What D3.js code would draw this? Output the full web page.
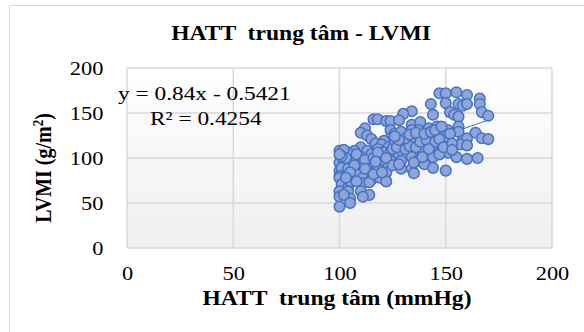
<!DOCTYPE html>
<html>
<head>
<meta charset="utf-8">
<script src="https://cdn.jsdelivr.net/npm/d3@7"></script>
<style>
  body { margin: 0; background: #fff; }
  text { font-family: "Liberation Serif", "Times New Roman", serif; }
</style>
</head>
<body>
<div id="chart"></div>
<script>
// HATT trung tâm (mmHg) values
const hatt = [
  147, 150, 155, 160, 166, 143, 150, 156, 158, 160, 166, 144, 152, 154, 156, 167, 170,
  134, 130, 116, 118, 122, 124, 128, 134, 138, 142, 146, 137, 134, 151, 156, 156,
  112, 110, 113, 124, 126, 129, 124, 121, 147, 150, 152, 158, 160, 164, 167, 170,
  157, 160, 115, 117, 120, 118, 110, 107, 104, 100, 102, 113, 115, 119, 123, 126,
  129, 132, 135, 138, 140, 143, 146, 148, 151, 155, 160, 165, 121, 124, 128, 130,
  132, 136, 139, 143, 144, 100, 102, 105, 108, 110, 110, 113, 116, 120, 124, 129,
  134, 137, 140, 144, 150, 129, 134, 135, 123, 118, 113, 100, 101, 104, 106, 100,
  100, 108, 111, 115, 119, 122, 101, 104, 105, 111, 114, 122, 100, 104, 110, 114,
  111, 100, 105, 102, 100, 105,
  108, 112, 116, 118, 122, 125, 127, 131, 133, 136, 138, 141, 145, 147, 142, 131,
  128, 126, 133, 136, 140, 143, 145, 148, 107, 105, 103, 108, 103, 101, 100, 117,
  112, 116, 120, 125, 128, 135, 139, 147, 149, 153, 153
];
// LVMI (g/m²) values
const lvmi = [
  172, 172, 173, 170, 166, 160, 161, 160, 158, 160, 160, 148, 151, 148, 146, 151, 147,
  152, 149, 143, 143, 141, 141, 142, 137, 140, 133, 135, 131, 131, 131, 135, 129,
  133, 128, 125, 131, 127, 129, 122, 119, 125, 124, 127, 119, 122, 128, 122, 121,
  115, 114, 121, 116, 115, 110, 112, 108, 106, 108, 109, 108, 104, 102, 112, 116,
  116, 117, 120, 123, 114, 116, 108, 108, 106, 101, 99, 100, 106, 106, 104, 106,
  104, 108, 108, 104, 101, 95, 93, 97, 99, 101, 91, 93, 91, 93, 97, 97,
  101, 97, 93, 89, 86, 88, 88, 83, 90, 88, 86, 86, 89, 88, 80, 80,
  78, 82, 78, 76, 78, 84, 71, 67, 74, 72, 73, 74, 63, 63, 63, 59,
  57, 57, 55, 59, 46, 50,
  104, 98, 100, 106, 100, 110, 112, 110, 113, 112, 118, 120, 118, 121, 110, 122,
  120, 124, 126, 128, 127, 129, 131, 135, 92, 84, 78, 74, 100, 102, 104, 96,
  88, 82, 84, 92, 93, 95, 101, 104, 112, 116, 109
];
const points = hatt.map((x, i) => ({ x, y: lvmi[i] }));

const xTicks = [0, 50, 100, 150, 200];
const yTicks = [0, 50, 100, 150, 200];
const trend = { slope: 0.84, intercept: -0.5421 };
const eqText = "y = 0.84x - 0.5421";
const r2Text = "R² = 0.4254";

const W = 584, H = 332;
const margin = { top: 68, right: 32, bottom: 84, left: 127 };
const width = W - margin.left - margin.right;
const height = H - margin.top - margin.bottom;
const stretch = 1.18; // the picture's text is stretched horizontally

const svg = d3.select("#chart").append("svg")
  .attr("width", W)
  .attr("height", H);

// chart frame
svg.append("rect")
  .attr("x", 9.5).attr("y", 5.5)
  .attr("width", 640).attr("height", 400)
  .attr("fill", "#fff")
  .attr("stroke", "#d9d9d9");

const defs = svg.append("defs");
const grad = defs.append("linearGradient")
  .attr("id", "bg").attr("x1", 0).attr("y1", 0).attr("x2", 0).attr("y2", 1);
grad.append("stop").attr("offset", "0%").attr("stop-color", "#ffffff");
grad.append("stop").attr("offset", "100%").attr("stop-color", "#efefef");

const g = svg.append("g")
  .attr("transform", `translate(${margin.left},${margin.top})`);

const x = d3.scaleLinear().domain([0, 200]).range([0, width]);
const y = d3.scaleLinear().domain([0, 200]).range([height, 0]);

g.append("rect")
  .attr("width", width).attr("height", height)
  .attr("fill", "url(#bg)");

// grid
g.append("g")
  .selectAll("line")
  .data(xTicks)
  .join("line")
  .attr("x1", d => x(d)).attr("x2", d => x(d))
  .attr("y1", 0).attr("y2", height)
  .attr("stroke", "#d9d9d9").attr("stroke-width", 1.5);

g.append("g")
  .selectAll("line")
  .data(yTicks)
  .join("line")
  .attr("x1", 0).attr("x2", width)
  .attr("y1", d => y(d)).attr("y2", d => y(d))
  .attr("stroke", "#d9d9d9").attr("stroke-width", 1.5);

// axes (labels only)
const xAxis = g.append("g")
  .attr("transform", `translate(0,${height})`)
  .call(d3.axisBottom(x).tickValues(xTicks).tickSize(0).tickPadding(19));
const yAxis = g.append("g")
  .call(d3.axisLeft(y).tickValues(yTicks).tickSize(0).tickPadding(20));
[xAxis, yAxis].forEach(a => {
  a.select(".domain").remove();
  a.selectAll("text")
    .attr("font-family", "Liberation Serif, serif")
    .attr("font-size", 19)
    .attr("fill", "#000");
});
// stretch tick labels around their anchor
xAxis.selectAll(".tick text").attr("transform", `scale(${stretch},1)`);
yAxis.selectAll(".tick text").attr("transform", `scale(${stretch},1)`);

// trendline
const xr = d3.extent(hatt);
g.append("line")
  .attr("x1", x(xr[0])).attr("y1", y(trend.slope * xr[0] + trend.intercept))
  .attr("x2", x(xr[1])).attr("y2", y(trend.slope * xr[1] + trend.intercept))
  .attr("stroke", "#4472c4").attr("stroke-width", 1);

// points
g.append("g")
  .selectAll("circle")
  .data(points)
  .join("circle")
  .attr("cx", d => x(d.x))
  .attr("cy", d => y(d.y))
  .attr("r", 5.3)
  .attr("fill", "#8fa5d9")
  .attr("stroke", "#4472c4")
  .attr("stroke-width", 1.5);

function label(tx, ty, size, bold, anchor, str) {
  return svg.append("text")
    .attr("transform", `translate(${tx},${ty}) scale(${stretch},1)`)
    .attr("text-anchor", anchor)
    .attr("font-size", size)
    .attr("font-weight", bold ? "bold" : "normal")
    .style("white-space", "pre")
    .text(str);
}

// trendline equation
label(118, 100, 19.8, false, "start", eqText);
label(150, 125, 19.8, false, "start", r2Text);

// title
label(301, 40, 20, true, "middle", "HATT  trung tâm - LVMI");

// axis titles
label(337, 305, 20, true, "middle", "HATT  trung tâm (mmHg)");

const yt = svg.append("text")
  .attr("transform", `translate(51,168) scale(${stretch},1) rotate(-90)`)
  .attr("text-anchor", "middle")
  .attr("font-size", 20).attr("font-weight", "bold");
yt.append("tspan").text("LVMI (g/m");
yt.append("tspan").attr("font-size", 13).attr("dy", -7).text("2");
yt.append("tspan").attr("dy", 7).text(")");
</script>
</body>
</html>
